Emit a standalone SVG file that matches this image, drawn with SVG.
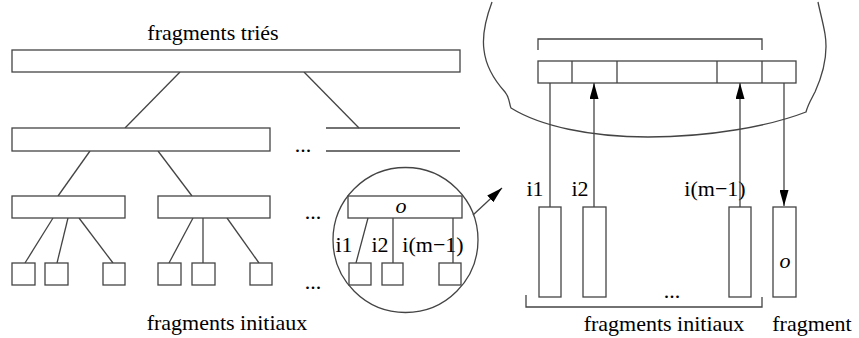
<svg xmlns="http://www.w3.org/2000/svg" width="859" height="338" viewBox="0 0 859 338">
  <defs>
    <style>
      .box { fill: #fff; stroke: #444; stroke-width: 1.3; }
      .ln { fill: none; stroke: #444; stroke-width: 1.3; }
      .txt { font-family: "Liberation Serif", "Times New Roman", serif; font-size: 22px; fill: #000; }
      .it { font-style: italic; }
    </style>
    <marker id="arrow" viewBox="0 0 10 10" refX="10" refY="5" markerWidth="16" markerHeight="9" markerUnits="userSpaceOnUse" orient="auto-start-reverse" preserveAspectRatio="none">
      <path d="M0,0 L10,5 L0,10 z" fill="#000"/>
    </marker>
  </defs>
  <rect width="859" height="338" fill="#fff"/>

  <!-- merge tree (left) -->
  <g id="tree-edges" class="ln">
    <line x1="180" y1="72" x2="125" y2="128"/>
    <line x1="304" y1="72" x2="359" y2="128"/>
    <line x1="90" y1="151" x2="58" y2="196"/>
    <line x1="158" y1="151" x2="192" y2="196"/>
    <line x1="53" y1="218" x2="25" y2="263"/>
    <line x1="68" y1="218" x2="57" y2="263"/>
    <line x1="79" y1="218" x2="113" y2="263"/>
    <line x1="193" y1="218" x2="169" y2="263"/>
    <line x1="203" y1="218" x2="203" y2="263"/>
    <line x1="227" y1="218" x2="259" y2="263"/>
  </g>

  <g id="sorted-root">
    <rect class="box" x="12" y="50" width="448" height="22"/>
    <text class="txt" x="213" y="40" text-anchor="middle">fragments triés</text>
  </g>
  <g id="level2-left"><rect class="box" x="12" y="128" width="258" height="23"/></g>
  <g id="level2-right">
    <path class="ln" d="M326,128 H460 M326,151 H460"/>
  </g>
  <g id="level3-a"><rect class="box" x="12" y="196" width="113" height="22"/></g>
  <g id="level3-b"><rect class="box" x="158" y="196" width="112" height="22"/></g>

  <g id="leaves">
    <rect class="box" x="12" y="263" width="23" height="22"/>
    <rect class="box" x="45" y="263" width="23" height="22"/>
    <rect class="box" x="103" y="263" width="22" height="22"/>
    <rect class="box" x="158" y="263" width="23" height="22"/>
    <rect class="box" x="192" y="263" width="23" height="22"/>
    <rect class="box" x="250" y="263" width="22" height="22"/>
  </g>

  <g id="ellipses" class="txt">
    <text x="303" y="152" text-anchor="middle">...</text>
    <text x="313" y="219" text-anchor="middle">...</text>
    <text x="313" y="289" text-anchor="middle">...</text>
    <text x="672" y="298" text-anchor="middle">...</text>
  </g>

  <g id="leaves-label">
    <text class="txt" x="227" y="330" text-anchor="middle">fragments initiaux</text>
  </g>

  <!-- zoom lens on one merge node -->
  <g id="lens">
    <circle class="ln" cx="405.5" cy="240" r="72.5"/>
    <rect class="box" x="348" y="196" width="114" height="22" fill="none"/>
    <text class="txt it" x="401" y="213" text-anchor="middle">o</text>
    <path class="ln" d="M368,218 L356,263 M393,218 V263 M453,218 V263"/>
    <rect class="box" x="349" y="263" width="22" height="22"/>
    <rect class="box" x="382" y="263" width="21" height="22"/>
    <rect class="box" x="439" y="263" width="22" height="22"/>
    <text class="txt" x="344" y="252" text-anchor="middle">i1</text>
    <text class="txt" x="380" y="252" text-anchor="middle">i2</text>
    <text class="txt" x="433" y="252" text-anchor="middle">i(m−1)</text>
  </g>

  <!-- memory bulb -->
  <g id="memory">
    <path class="ln" d="M492,2 C486,18 482,36 484,50 C486,68 496,82 505,92 C510,98 509,104 511,108 C540,126 590,137 648,137 C710,137 770,126 806,112 C808,104 812,98 815,92 C824,72 828,52 825,34 C823,22 820,12 818,2"/>
    <path class="ln" d="M538,50 V39 H762 V50"/>
    <rect class="box" x="538" y="61" width="258" height="22"/>
    <path class="ln" d="M572,61 V83 M617,61 V83 M717,61 V83 M762,61 V83"/>
  </g>

  <g id="runs">
    <rect class="box" x="539" y="207" width="22" height="90"/>
    <rect class="box" x="583" y="207" width="23" height="90"/>
    <rect class="box" x="729" y="207" width="22" height="90"/>
    <text class="txt" x="535" y="196" text-anchor="middle">i1</text>
    <text class="txt" x="580" y="196" text-anchor="middle">i2</text>
    <text class="txt" x="715" y="196" text-anchor="middle">i(m−1)</text>
    <path class="ln" d="M526,295 V307 H762 V297"/>
    <text class="txt" x="664" y="331" text-anchor="middle">fragments initiaux</text>
  </g>

  <g id="output-run">
    <rect class="box" x="773" y="207" width="23" height="90"/>
    <text class="txt it" x="785" y="268" text-anchor="middle">o</text>
    <text class="txt" x="812" y="331" text-anchor="middle">fragment</text>
  </g>

  <g id="connectors" class="ln">
    <line x1="473" y1="215" x2="502" y2="188" marker-end="url(#arrow)"/>
    <line x1="550" y1="207" x2="550" y2="83"/>
    <line x1="594" y1="207" x2="594" y2="83" marker-end="url(#arrow)"/>
    <line x1="740" y1="207" x2="740" y2="83" marker-end="url(#arrow)"/>
    <line x1="784" y1="83" x2="784" y2="206" marker-end="url(#arrow)"/>
  </g>
</svg>
